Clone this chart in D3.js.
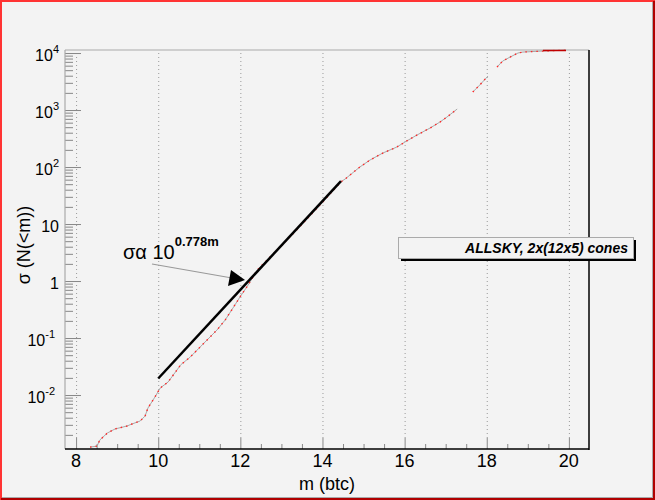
<!DOCTYPE html>
<html>
<head>
<meta charset="utf-8">
<script src="https://cdn.jsdelivr.net/npm/d3@7"></script>
<style>
  body { margin: 0; background: #f3f3f3; }
  text { font-family: "Liberation Sans", Arial, sans-serif; }
</style>
</head>
<body>
<div id="chart"></div>
<script>
// Cumulative counts (null = break in the curve)
const mVals = [8.34, 8.51, 8.58, 8.76, 8.95, 9.24, 9.36, 9.56, 9.68, 9.75, 9.92, 10.05, 10.24,
  10.55, 10.78, 11.02, 11.26, 11.43, 11.63, 11.82, 11.99, 12.19, 12.41, 12.65, 12.97,
  13.45, 13.95, 14.45, 14.55, 14.67, 14.91, 15.16, 15.47, 15.81, 16.01, 16.30, 16.62,
  16.86, 17.03, 17.28, 17.45, 17.66, 17.83, 18.03, 18.13, 18.25, 18.39, 18.57, 18.76,
  18.88, 19.37, 19.93];
const sigmaVals = [0.00122, 0.00127, 0.00163, 0.00215, 0.00254, 0.00286, 0.00310, 0.00350,
  0.00428, 0.00592, 0.00922, 0.0133, 0.0169, 0.034, 0.0464, 0.0695, 0.104, 0.138, 0.207,
  0.336, 0.524, 0.851, 1.56, 2.33, 3.95, 9.0, 22, 55, 61.5, 72.4, 100, 133, 176, 224, 275,
  364, 483, 615, 753, 1041, null, 2069, 2748, 3948, null, 5680, 7244, 8505, 10000, 10400,
  10850, 11250];

// fit sigma ~ 10^(0.778 m)
const fitM = [10, 14.45];
const fitSigma = [0.0195, 56.5];

const xTicks = [8, 10, 12, 14, 16, 18, 20];
const xMinor = d3.range(8.5, 20.5, 0.5).filter(d => d % 2 !== 0);
const yTicks = [1e-2, 1e-1, 1, 10, 1e2, 1e3, 1e4];
const yTickLabels = [["10", "-2"], ["10", "-1"], ["1", ""], ["10", ""], ["10", "2"], ["10", "3"], ["10", "4"]];

const W = 655, H = 500;
const frame = { left: 65, right: 589, top: 50, bottom: 449 };

const svg = d3.select('#chart').append('svg')
    .attr('width', W).attr('height', H);

svg.append('rect').attr('width', W).attr('height', H).attr('fill', '#f3f3f3');

const x = d3.scaleLinear().domain([7.73, 20.49]).range([frame.left, frame.right]);
const y = d3.scaleLog().domain([0.00113, 11300]).range([frame.bottom, frame.top]);

// vertical dotted grid
svg.append('g')
    .attr('transform', `translate(0,${frame.bottom - 11})`)
    .call(d3.axisBottom(x).tickValues(xTicks).tickSize(-(frame.bottom - frame.top - 14)).tickFormat(''))
    .call(g => g.select('.domain').remove())
    .selectAll('line').attr('stroke', '#999').attr('stroke-dasharray', '1,3');

// x axis ticks (pointing inward)
svg.append('g')
    .attr('transform', `translate(0,${frame.bottom})`)
    .call(d3.axisTop(x).tickValues(xTicks).tickSize(11).tickFormat(''))
    .call(g => g.select('.domain').remove())
    .selectAll('line').attr('stroke', '#888');
svg.append('g')
    .attr('transform', `translate(0,${frame.bottom})`)
    .call(d3.axisTop(x).tickValues(xMinor).tickSize(5).tickFormat(''))
    .call(g => g.select('.domain').remove())
    .selectAll('line').attr('stroke', '#888');

// y axis ticks (pointing inward)
const yMinor = [];
for (let e = -3; e <= 4; e++) {
    for (let k = 2; k <= 9; k++) {
        const v = k * Math.pow(10, e);
        if (v > y.domain()[0] && v < y.domain()[1]) yMinor.push(v);
    }
}
svg.append('g')
    .attr('transform', `translate(${frame.left},0)`)
    .call(d3.axisRight(y).tickValues(yTicks).tickSize(16).tickFormat(''))
    .call(g => g.select('.domain').remove())
    .selectAll('line').attr('stroke', '#888');
svg.append('g')
    .attr('transform', `translate(${frame.left},0)`)
    .call(d3.axisRight(y).tickValues(yMinor).tickSize(8).tickFormat(''))
    .call(g => g.select('.domain').remove())
    .selectAll('line').attr('stroke', '#888');

// x tick labels
svg.append('g').selectAll('text').data(xTicks).join('text')
    .attr('x', d => x(d)).attr('y', 467)
    .attr('text-anchor', 'middle').style('font-size', '18px').text(d => d);

// y tick labels with superscripts
const yl = svg.append('g').selectAll('text').data(yTicks).join('text')
    .attr('x', (d, i) => yTickLabels[i][1].startsWith('-') ? 55 : 59)
    .attr('y', d => y(d) + 8)
    .attr('text-anchor', 'end').style('font-size', '16px');
yl.append('tspan').text((d, i) => yTickLabels[i][0]);
yl.append('tspan').attr('dy', -8).style('font-size', '11px').text((d, i) => yTickLabels[i][1]);

// axis titles
svg.append('text').attr('x', 327).attr('y', 490).attr('text-anchor', 'middle')
    .style('font-size', '18px').text('m (btc)');
svg.append('text').attr('transform', 'translate(30,245) rotate(-90)').attr('text-anchor', 'middle')
    .style('font-size', '18px').text('σ (N(<m))');

// data curve: grey line with red dots on it
const pts = mVals.map((m, i) => ({ m: m, s: sigmaVals[i] }));
const line = d3.line().defined(d => d.s !== null).x(d => x(d.m)).y(d => y(d.s));
svg.append('path').datum(pts).attr('d', line)
    .attr('fill', 'none').attr('stroke', '#a8a8a8').attr('stroke-width', 1);
svg.append('path').datum(pts).attr('d', line)
    .attr('fill', 'none').attr('stroke', '#ff2a2a').attr('stroke-width', 1.4)
    .attr('stroke-dasharray', '1.5,4');

// fit line
const fitPts = fitM.map((m, i) => ({ m: m, s: fitSigma[i] }));
svg.append('path').datum(fitPts).attr('d', line)
    .attr('fill', 'none').attr('stroke', '#000').attr('stroke-width', 2.5);

// frame
svg.append('line').attr('x1', frame.left).attr('x2', frame.right).attr('y1', frame.top).attr('y2', frame.top)
    .attr('stroke', '#aaa').attr('stroke-width', 1.2);
svg.append('line').attr('x1', frame.left).attr('x2', frame.left).attr('y1', frame.top).attr('y2', frame.bottom)
    .attr('stroke', '#aaa').attr('stroke-width', 1.2);
svg.append('line').attr('x1', frame.right).attr('x2', frame.right).attr('y1', frame.top).attr('y2', frame.bottom + 1)
    .attr('stroke', '#000').attr('stroke-width', 1.5);
svg.append('line').attr('x1', frame.left).attr('x2', frame.right).attr('y1', frame.bottom).attr('y2', frame.bottom)
    .attr('stroke', '#000').attr('stroke-width', 1.5);

// top plateau sits on the frame
svg.append('line').attr('x1', x(19.37)).attr('x2', x(19.93)).attr('y1', frame.top + 0.5).attr('y2', frame.top + 0.5)
    .attr('stroke', '#c00000').attr('stroke-width', 1.5);

// annotation
const ann = svg.append('text').attr('x', 123).attr('y', 259).style('font-size', '20px');
ann.append('tspan').text('σα 10');
ann.append('tspan').attr('dy', -13).style('font-size', '13px').style('font-weight', 'bold').text('0.778m');

const tip = [245, 280];
svg.append('line').attr('x1', 152).attr('y1', 264).attr('x2', 232).attr('y2', 278)
    .attr('stroke', '#999').attr('stroke-width', 1.2);
svg.append('path').attr('d', `M${tip[0]},${tip[1]} L231,270 L228,286 Z`).attr('fill', '#000');

// legend box
svg.append('rect').attr('x', 401).attr('y', 240).attr('width', 235).attr('height', 21).attr('fill', '#000');
svg.append('rect').attr('x', 398.5).attr('y', 237.5).attr('width', 235).attr('height', 21)
    .attr('fill', '#f3f3f3').attr('stroke', '#aaa').attr('stroke-width', 1);
svg.append('text').attr('x', 628).attr('y', 253).attr('text-anchor', 'end')
    .style('font-size', '14px').style('font-style', 'italic').style('font-weight', 'bold')
    .text('ALLSKY, 2x(12x5) cones');

// canvas border
svg.append('rect').attr('x', 0.5).attr('y', 0.5).attr('width', W - 3).attr('height', H - 3)
    .attr('fill', 'none').attr('stroke', '#aaa').attr('stroke-width', 1);
svg.append('path').attr('d', `M1,${H} L1,1 L${W},1`).attr('fill', 'none')
    .attr('stroke', '#ff3333').attr('stroke-width', 2);
svg.append('path').attr('d', `M1,${H - 1} L${W - 1},${H - 1} L${W - 1},1`).attr('fill', 'none')
    .attr('stroke', '#b00000').attr('stroke-width', 2);
</script>
</body>
</html>
